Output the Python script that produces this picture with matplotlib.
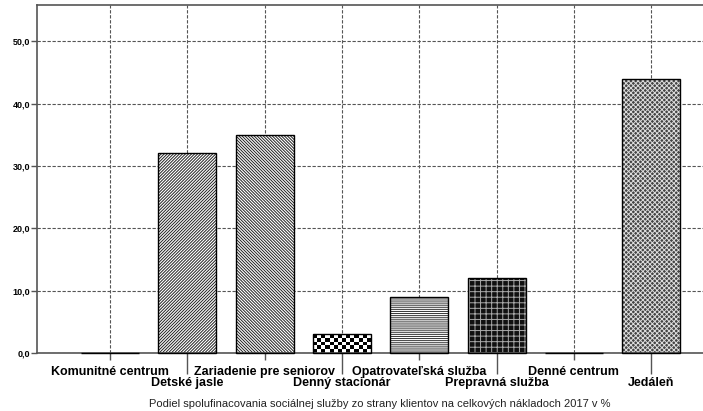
import matplotlib
matplotlib.use("Agg")
import matplotlib.pyplot as plt
import numpy as np

categories = ["Komunitné centrum", "Detské jasle", "Zariadenie pre seniorov",
              "Denný stacionár", "Opatrovateľská služba", "Prepravná služba",
              "Denné centrum", "Jedáleň"]
values = [0, 32, 35, 3, 9, 12, 0, 44]
yticks = [0, 10, 20, 30, 40, 50]
ytick_labels = ["0,0", "10,0", "20,0", "30,0", "40,0", "50,0"]
xlabel = "Podiel spolufinacovania sociálnej služby zo strany klientov na celkových nákladoch 2017 v %"

# styling per bar: (facecolor, hatch, hatchcolor, checker cell px or None)
styles = [
    ("white", "", "black", None),
    ("white", "/" * 11, "#222222", None),
    ("white", "\\" * 11, "#222222", None),
    ("white", "", "black", 4.0),
    ("white", "-" * 8, "#333333", None),
    ("#111111", "+++", "#aaaaaa", None),
    ("white", "", "black", None),
    ("#444444", "xxxxxxx", "#dddddd", None),
]

plt.rcParams['font.family'] = ['Liberation Sans', 'DejaVu Sans']
plt.rcParams['hatch.linewidth'] = 0.7

fig = plt.figure(figsize=(7.03, 4.11), dpi=100)
ax = fig.add_axes([37/703, 58/411, 1 - 37/703, (353-5)/411])

ax.set_xlim(-0.944, 7.67)
ax.set_ylim(0, 55.8)

x = np.arange(len(categories))
for i, (v, (fc, h, hc, cell)) in enumerate(zip(values, styles)):
    bars = ax.bar(x[i], v, width=0.75, color=fc, hatch=h, edgecolor=hc, linewidth=0, zorder=2)
    if cell is not None and v > 0:
        patch = bars[0]
        bx, by = patch.get_x(), patch.get_y()
        bw, bh = patch.get_width(), patch.get_height()
        fig.canvas.draw()
        p0 = ax.transData.transform((bx, by))
        p1 = ax.transData.transform((bx + bw, by + bh))
        nx = max(1, int(round((p1[0] - p0[0]) / cell)))
        ny = max(1, int(round((p1[1] - p0[1]) / cell)))
        checker = (np.add.outer(np.arange(ny), np.arange(nx)) % 2).astype(float)
        im = ax.imshow(checker, cmap="gray", vmin=0, vmax=1, interpolation="nearest",
                       extent=(bx, bx + bw, by, by + bh), origin="lower", aspect="auto", zorder=2.5)
        im.set_clip_path(patch)
    ax.bar(x[i], v, width=0.75, fill=False, edgecolor="black", linewidth=1.0, zorder=3, clip_on=False)

ax.set_xlim(-0.944, 7.67)
ax.set_ylim(0, 55.8)
ax.set_yticks(yticks)
ax.set_yticklabels(ytick_labels, fontsize=6.5, fontweight="bold")

ax.set_xticks(x[::2])
ax.set_xticklabels(categories[::2], fontsize=9, fontweight="bold")
ax.set_xticks(x[1::2], minor=True)
ax.set_xticklabels(categories[1::2], minor=True, fontsize=9, fontweight="bold")
ax.tick_params(axis="x", which="major", length=5, width=1, color="#555555", pad=4)
ax.tick_params(axis="x", which="minor", length=15, width=1, color="#555555", pad=2.5)
ax.tick_params(axis="y", length=4, width=1, color="#555555", pad=1)

ax.grid(True, which="major", axis="y", linestyle=(0, (3, 1.5)), color="#555555", linewidth=0.8, zorder=0)
ax.grid(True, which="both", axis="x", linestyle=(0, (3, 1.5)), color="#555555", linewidth=0.8, zorder=0)
ax.set_axisbelow(True)

for s in ["left", "top", "bottom"]:
    ax.spines[s].set_color("#555555")
    ax.spines[s].set_linewidth(1.2)
ax.spines["right"].set_visible(False)

fig.text(379.5/703, 1 - 404/411, xlabel, ha="center", va="center", fontsize=8, color="#222222")

fig.savefig("out.png", dpi=100)
